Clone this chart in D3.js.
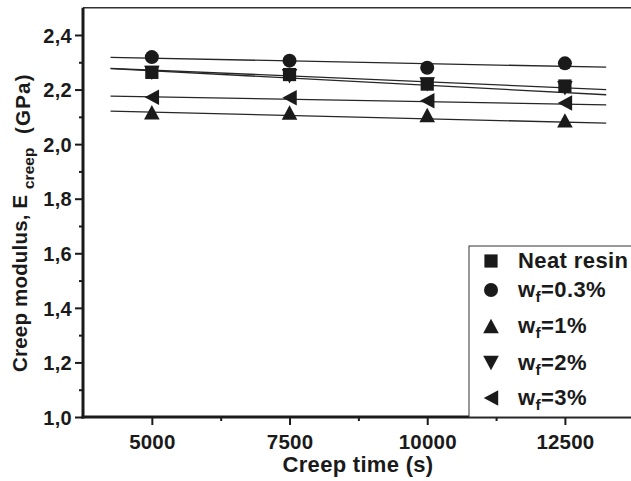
<!DOCTYPE html>
<html>
<head>
<meta charset="utf-8">
<script src="https://cdn.jsdelivr.net/npm/d3@7"></script>
<style>
  body { margin: 0; background: #fff; }
  svg { display: block; font-family: "Liberation Sans", Arial, sans-serif; font-weight: bold; }
</style>
</head>
<body>
<div id="chart"></div>
<script>
// data
const times = [5000, 7500, 10000, 12500]
const neatResin = [2.263, 2.255, 2.220, 2.213]
const wf03 = [2.319, 2.306, 2.280, 2.296]
const wf1 = [2.117, 2.116, 2.107, 2.087]
const wf2 = [2.261, 2.249, 2.219, 2.205]
const wf3 = [2.172, 2.170, 2.159, 2.151]

// linear fits, value at start and end of the fitted range
const fitTimes = [4250, 13250]
const fitNeat = [2.278, 2.200]
const fit03 = [2.318, 2.282]
const fit1 = [2.121, 2.077]
const fit2 = [2.277, 2.181]
const fit3 = [2.176, 2.144]

const legendLabels = ["Neat resin", "wf=0.3%", "wf=1%", "wf=2%", "wf=3%"]
const symbolTypes = ["square", "circle", "up", "down", "left"]
const xMajor = [5000, 7500, 10000, 12500]
const xMinor = [6250, 8750, 11250]
const yMajor = [1.0, 1.2, 1.4, 1.6, 1.8, 2.0, 2.2, 2.4]
const yMinor = [1.1, 1.3, 1.5, 1.7, 1.9, 2.1, 2.3]

const series = [
  { values: neatResin, fit: fitNeat },
  { values: wf03, fit: fit03 },
  { values: wf1, fit: fit1 },
  { values: wf2, fit: fit2 },
  { values: wf3, fit: fit3 }
]

const W = 631, H = 481
const plot = { left: 83, right: 631, top: 7.7, bottom: 417 }
const ink = "#1a1a1a"

const svg = d3.select("#chart").append("svg")
  .attr("width", W)
  .attr("height", H)

const x = d3.scaleLinear().domain([3750, 13700]).range([plot.left, plot.right])
const y = d3.scaleLinear().domain([1.0, 2.5]).range([plot.bottom, plot.top])

function symbolPath(type) {
  switch (type) {
    case "square": return "M-6.6,-6.6H6.6V6.6H-6.6Z"
    case "circle": return "M7,0A7,7 0 1,1 -7,0A7,7 0 1,1 7,0Z"
    case "up": return "M0,-7.2L7.8,7.2L-7.8,7.2Z"
    case "down": return "M0,7.2L7.8,-7.2L-7.8,-7.2Z"
    case "left": return "M-7.2,0L7.2,-7.8L7.2,7.8Z"
  }
}

// frame top line
svg.append("line")
  .attr("x1", plot.left).attr("x2", plot.right)
  .attr("y1", y(2.5)).attr("y2", y(2.5))
  .attr("stroke", "#333").attr("stroke-width", 1.5)

// fit lines
const line = d3.line().x(d => x(d[0])).y(d => y(d[1]))
svg.append("g").selectAll("path")
  .data(series)
  .join("path")
  .attr("d", s => line(fitTimes.map((t, i) => [t, s.fit[i]])))
  .attr("fill", "none")
  .attr("stroke", "#262626")
  .attr("stroke-width", 1.3)

// markers
series.forEach((s, k) => {
  svg.append("g").selectAll("path")
    .data(times.map((t, i) => [t, s.values[i]]))
    .join("path")
    .attr("transform", d => `translate(${x(d[0])},${y(d[1])})`)
    .attr("d", symbolPath(symbolTypes[k]))
    .attr("fill", ink)
})

// axes
const fmtY = v => d3.format(".1f")(v).replace(".", ",")

const yAxis = svg.append("g")
  .attr("transform", `translate(${plot.left},0)`)
  .call(d3.axisLeft(y).tickValues(yMajor).tickSize(8).tickPadding(3).tickFormat(fmtY))
yAxis.append("g")
  .call(d3.axisLeft(y).tickValues(yMinor).tickSize(4).tickFormat(""))

const xAxis = svg.append("g")
  .attr("transform", `translate(0,${plot.bottom})`)
  .call(d3.axisBottom(x).tickValues(xMajor).tickSize(8).tickFormat(d3.format("d")))
xAxis.append("g")
  .call(d3.axisBottom(x).tickValues(xMinor).tickSize(4).tickFormat(""))

svg.selectAll(".domain").remove()
svg.selectAll(".tick line").attr("stroke", ink).attr("stroke-width", 2)
yAxis.attr("font-size", 20).attr("font-family", null)
  .selectAll("text").attr("fill", ink).attr("letter-spacing", 0.3).attr("dy", "0.36em")
xAxis.attr("font-size", 20.5).attr("font-family", null)
  .selectAll("text").attr("fill", ink).attr("letter-spacing", 0.2).attr("dy", 0).attr("y", 31.5)

svg.append("line")
  .attr("x1", plot.left).attr("x2", plot.left)
  .attr("y1", plot.top).attr("y2", plot.bottom + 1.5)
  .attr("stroke", ink).attr("stroke-width", 3)
svg.append("line")
  .attr("x1", plot.left - 1.5).attr("x2", plot.right)
  .attr("y1", plot.bottom).attr("y2", plot.bottom)
  .attr("stroke", ink).attr("stroke-width", 3)

// axis titles
svg.append("text")
  .attr("x", (plot.left + plot.right) / 2 + 1)
  .attr("y", 472)
  .attr("text-anchor", "middle")
  .attr("font-size", 22)
  .attr("letter-spacing", 0.3)
  .attr("fill", ink)
  .text("Creep time (s)")

const yTitle = svg.append("text")
  .attr("transform", "translate(27,372) rotate(-90)")
  .attr("font-size", 20.5)
  .attr("fill", ink)
yTitle.append("tspan").attr("letter-spacing", 0.2).text("Creep modulus, E")
yTitle.append("tspan").attr("x", 183).attr("dy", 7).attr("font-size", 15.5).text("creep")
yTitle.append("tspan").attr("x", 238).attr("dy", -4).attr("letter-spacing", 1.2).text("(GPa)")

// legend
const legendRowY = [261, 290, 326, 363, 398]
svg.append("rect")
  .attr("x", 469).attr("y", 246)
  .attr("width", 200).attr("height", plot.bottom - 246)
  .attr("fill", "#fff")
  .attr("stroke", "#333").attr("stroke-width", 1)

const legend = svg.append("g").selectAll("g")
  .data(legendLabels)
  .join("g")
  .attr("transform", (d, i) => `translate(0,${legendRowY[i]})`)
legend.append("path")
  .attr("transform", "translate(491,0)")
  .attr("d", (d, i) => symbolPath(symbolTypes[i]))
  .attr("fill", ink)
legend.append("text")
  .attr("x", 518)
  .attr("y", 7)
  .attr("font-size", 22)
  .attr("letter-spacing", 0.4)
  .attr("fill", ink)
  .each(function (d) {
    const t = d3.select(this)
    if (d.startsWith("wf")) {
      t.append("tspan").text("w")
      t.append("tspan").attr("font-size", 15.5).attr("dy", 5).text("f")
      t.append("tspan").attr("dy", -5).text(d.slice(2))
    } else {
      t.text(d)
    }
  })
</script>
</body>
</html>
